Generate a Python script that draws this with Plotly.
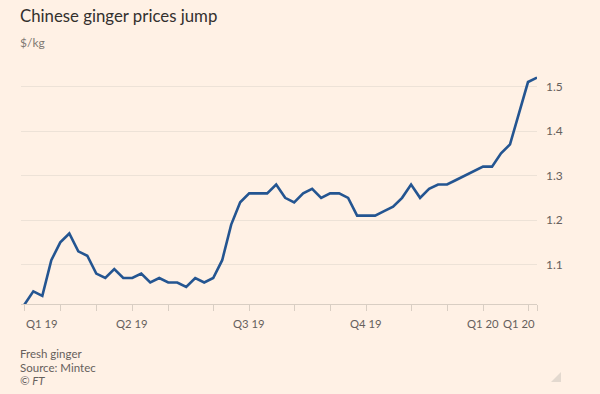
import plotly.graph_objects as go

# Weekly Chinese fresh ginger prices, $/kg (week index 0..57)
week_index = list(range(58))
prices = [1.01, 1.04, 1.03, 1.11, 1.15, 1.17, 1.13, 1.12, 1.08, 1.07,
          1.09, 1.07, 1.07, 1.08, 1.06, 1.07, 1.06, 1.06, 1.05, 1.07,
          1.06, 1.07, 1.11, 1.19, 1.24, 1.26, 1.26, 1.26, 1.28, 1.25,
          1.24, 1.26, 1.27, 1.25, 1.26, 1.26, 1.25, 1.21, 1.21, 1.21,
          1.22, 1.23, 1.25, 1.28, 1.25, 1.27, 1.28, 1.28, 1.29, 1.30,
          1.31, 1.32, 1.32, 1.35, 1.37, 1.44, 1.51, 1.52]

# monthly tick marks (week index of first week of each month)
tick_weeks = [0, 4, 8, 12, 16, 21, 25, 30, 34, 38, 43, 47, 51, 56, 57]
label_weeks = [0, 12, 25, 38, 51, 57]
label_texts = ["Q1 19", "Q2 19", "Q3 19", "Q4 19", "Q1 20", "Q1 20"]
label_anchor = ["left", "center", "center", "center", "center", "right"]

y_ticks = [1.1, 1.2, 1.3, 1.4, 1.5]

BG = "#FFF1E5"
FONT = "Lato"
W, H = 600, 394
ML, MR, MT, MB = 21, 63, 70, 90
PW, PH = W - ML - MR, H - MT - MB


def px_x(x):
    return (x - ML) / PW


def px_y(y):
    return (H - MB - y) / PH


fig = go.Figure()
fig.add_trace(go.Scatter(
    x=week_index, y=prices, mode="lines",
    line=dict(color="#245591", width=2.6),
    hoverinfo="skip", showlegend=False,
))

fig.update_layout(
    width=W, height=H,
    paper_bgcolor=BG, plot_bgcolor=BG,
    margin=dict(l=ML, r=MR, t=MT, b=MB),
    font=dict(family=FONT, color="#66605C", size=11),
    xaxis=dict(
        range=[-0.37, 57.0], tickvals=tick_weeks,
        ticktext=[""] * len(tick_weeks),
        ticks="outside", ticklen=6, tickcolor="#D9CEC3", tickwidth=1,
        showgrid=False, zeroline=False,
        showline=True, linecolor="#D9CEC3", linewidth=1,
        fixedrange=True,
    ),
    yaxis=dict(
        range=[1.0117, 1.537], side="right", tickvals=y_ticks,
        tickformat=".1f", ticks="", ticklabelstandoff=8,
        showgrid=True, gridcolor="#EDE2D7", gridwidth=1,
        zeroline=False, showline=False,
        tickfont=dict(size=12, color="#66605C"),
        fixedrange=True,
    ),
)

for wk, txt, anc in zip(label_weeks, label_texts, label_anchor):
    fig.add_annotation(x=wk, y=px_y(323.5), xref="x", yref="paper", text=txt,
                       showarrow=False, xanchor=anc, yanchor="middle",
                       font=dict(size=11.3, color="#66605C"))

texts = [
    ("Chinese ginger prices jump", 16, 16.8, "#33302E"),
    ("$/kg", 42, 12, "#807973"),
    ("Fresh ginger", 353, 11.5, "#66605C"),
    ("Source: Mintec", 367, 11.5, "#66605C"),
    ("<i>© FT</i>", 380.5, 11.5, "#66605C"),
]
for txt, ypx, size, col in texts:
    fig.add_annotation(x=px_x(18), y=px_y(ypx), xref="paper", yref="paper",
                       text=txt, showarrow=False, xanchor="left", yanchor="middle",
                       font=dict(size=size, color=col, family=FONT))

# small resize corner glyph
fig.add_shape(type="path", xref="paper", yref="paper",
              path=(f"M {px_x(561)} {px_y(372)} L {px_x(561)} {px_y(382)} "
                    f"L {px_x(551)} {px_y(382)} Z"),
              fillcolor="#E3D9CF", line=dict(width=0))

fig.write_html("out.html",
               config={"displayModeBar": False},
               post_script="document.body.style.margin='0';")
